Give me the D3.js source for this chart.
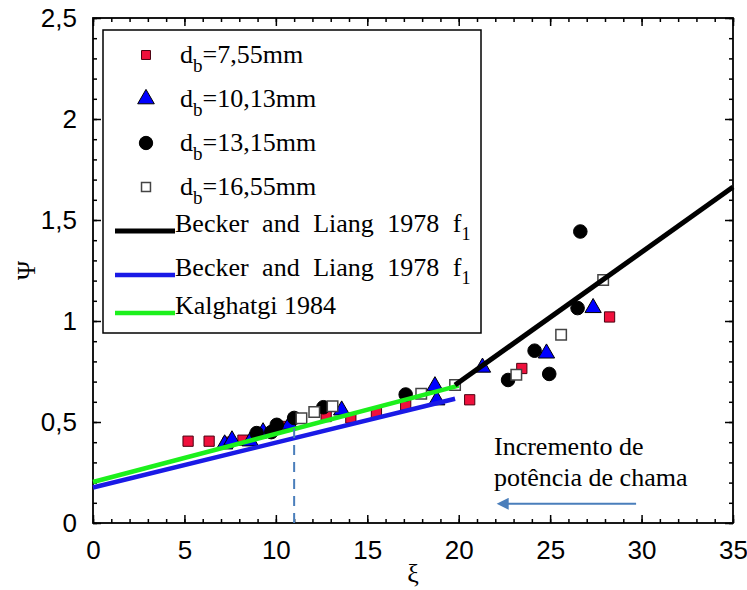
<!DOCTYPE html>
<html><head><meta charset="utf-8">
<script src="https://cdn.jsdelivr.net/npm/d3@7"></script>
<style>body{margin:0;background:#fff}svg{display:block}</style>
</head><body>
<script>
// ---- data ----
const redX   = [5.2, 6.35, 7.4, 8.2, 9.2, 10.5, 12.75, 14.1, 15.5, 17.1, 20.6, 23.45, 28.25];
const redY   = [0.405, 0.405, 0.40, 0.41, 0.445, 0.478, 0.527, 0.52, 0.546, 0.584, 0.61, 0.765, 1.02];
const triX   = [7.2, 7.6, 8.6, 9.3, 10.75, 13.6, 18.7, 18.8, 21.3, 24.8, 27.35];
const triY   = [0.39, 0.41, 0.405, 0.45, 0.488, 0.558, 0.678, 0.608, 0.77, 0.84, 1.065];
const circX  = [8.95, 9.75, 10.05, 11.0, 12.6, 17.1, 22.7, 24.15, 24.95, 26.5, 26.65];
const circY  = [0.445, 0.45, 0.486, 0.52, 0.573, 0.636, 0.708, 0.853, 0.738, 1.064, 1.443];
const openX  = [11.4, 12.1, 13.1, 17.95, 19.8, 23.15, 25.6, 27.9];
const openY  = [0.518, 0.55, 0.578, 0.64, 0.683, 0.734, 0.932, 1.203];
const blackLineX = [19.8, 35];   const blackLineY = [0.683, 1.663];
const blueLineX  = [0, 19.8];    const blueLineY  = [0.176, 0.615];
const greenLineX = [0, 20];      const greenLineY = [0.203, 0.680];
const dashX = [11, 11];          const dashY = [0.47, 0];
const arrowX = [29.7, 22.6];     const arrowY = [0.095, 0.095];
const xTicks = [0, 5, 10, 15, 20, 25, 30, 35];
const xTickLabels = ["0","5","10","15","20","25","30","35"];
const yTicks = [0, 0.5, 1, 1.5, 2, 2.5];
const yTickLabels = ["0","0,5","1","1,5","2","2,5"];
const seriesNames = ["=7,55mm", "=10,13mm", "=13,15mm", "=16,55mm"];
const lineNames = ["Becker and Liang 1978 f", "Becker and Liang 1978 f", "Kalghatgi 1984"];
const annotation = ["Incremento de", "potência de chama"];

const W = 747, H = 590;
const L = 93, R = 733, T = 18, B = 523;
const svg = d3.select("body").append("svg").attr("width", W).attr("height", H);
const x = d3.scaleLinear().domain([0, 35]).range([L, R]);
const y = d3.scaleLinear().domain([0, 2.5]).range([B, T]);

const serif = "'Liberation Serif','Times New Roman',serif";
const sans = "'Liberation Sans',Arial,sans-serif";

// axes with inside ticks
const xMinor = d3.range(0, 36, 1), yMinor = d3.range(0, 2.51, 0.1);
function axisG(gen, tr) { return svg.append("g").attr("transform", tr).call(gen); }
const style = g => { g.select(".domain").remove(); g.selectAll("line").attr("stroke", "#000").attr("stroke-width", 1.5); };
axisG(d3.axisBottom(x).tickValues(xMinor).tickSize(-4).tickFormat(""), `translate(0,${B})`).call(style);
axisG(d3.axisTop(x).tickValues(xMinor).tickSize(-4).tickFormat(""), `translate(0,${T})`).call(style);
axisG(d3.axisLeft(y).tickValues(yMinor).tickSize(-4).tickFormat(""), `translate(${L},0)`).call(style);
axisG(d3.axisRight(y).tickValues(yMinor).tickSize(-4).tickFormat(""), `translate(${R},0)`).call(style);
axisG(d3.axisTop(x).tickValues(xTicks).tickSize(-8).tickFormat(""), `translate(0,${T})`).call(style);
axisG(d3.axisRight(y).tickValues(yTicks).tickSize(-8).tickFormat(""), `translate(${R},0)`).call(style);
const xa = axisG(d3.axisBottom(x).tickValues(xTicks).tickSize(-8).tickPadding(18).tickFormat((d, i) => xTickLabels[i]), `translate(0,${B})`).call(style);
xa.selectAll("text").attr("font-family", sans).attr("font-size", 26).attr("fill", "#000");
const ya = axisG(d3.axisLeft(y).tickValues(yTicks).tickSize(-8).tickPadding(16).tickFormat((d, i) => yTickLabels[i]), `translate(${L},0)`).call(style);
ya.selectAll("text").attr("font-family", sans).attr("font-size", 26).attr("fill", "#000");
svg.append("rect").attr("x", L).attr("y", T).attr("width", R - L).attr("height", B - T)
  .attr("fill", "none").attr("stroke", "#000").attr("stroke-width", 1.8);

// axis titles
svg.append("text").attr("x", x(17.5)).attr("y", 582).attr("text-anchor", "middle")
  .attr("font-family", serif).attr("font-size", 26).text("ξ");
svg.append("text").attr("transform", `translate(35,${y(1.25)}) rotate(-90)`).attr("text-anchor", "middle")
  .attr("font-family", serif).attr("font-size", 26).text("Ψ");

// markers
const sym = (type, size) => d3.symbol().type(type).size(size);
const styles = [
  {type: d3.symbolSquare, size: 105, fill: "#f0103c", stroke: "#4a0010", sw: 1},
  {type: d3.symbolTriangle, size: 115, fill: "#0000ff", stroke: "#000", sw: 1},
  {type: d3.symbolCircle, size: 145, fill: "#000", stroke: "#000", sw: 1},
  {type: d3.symbolSquare, size: 110, fill: "#fff", stroke: "#444", sw: 1.5}
];
const sets = [[redX, redY], [triX, triY], [circX, circY], [openX, openY]];
sets.forEach(([xs, ys], k) => {
  const s = styles[k];
  svg.append("g").selectAll("path").data(xs.map((v, i) => [v, ys[i]])).join("path")
    .attr("d", sym(s.type, s.size)).attr("transform", d => `translate(${x(d[0])},${y(d[1])})`)
    .attr("fill", s.fill).attr("stroke", s.stroke).attr("stroke-width", s.sw);
});

// fitted lines
const lineGen = d3.line().x(d => x(d[0])).y(d => y(d[1]));
const lines = [[blueLineX, blueLineY, "#1a1ae6", 4.5], [greenLineX, greenLineY, "#1cf01c", 4.5], [blackLineX, blackLineY, "#000", 5]];
lines.forEach(([xs, ys, c, w]) => {
  svg.append("path").attr("d", lineGen(xs.map((v, i) => [v, ys[i]]))).attr("fill", "none")
    .attr("stroke", c).attr("stroke-width", w);
});

// dashed marker at ξ=11
svg.append("path").attr("d", lineGen(dashX.map((v, i) => [v, dashY[i]]))).attr("stroke", "#4a7ebb")
  .attr("stroke-width", 2).attr("stroke-dasharray", "10,7").attr("fill", "none");

// annotation
const ann = svg.append("text").attr("font-family", serif).attr("font-size", 26).attr("fill", "#000");
ann.append("tspan").attr("x", 494).attr("y", 455).text(annotation[0]);
ann.append("tspan").attr("x", 494).attr("y", 486).text(annotation[1]);
svg.append("defs").append("marker").attr("id", "ah").attr("viewBox", "0 0 10 10").attr("refX", 2).attr("refY", 5)
  .attr("markerWidth", 7).attr("markerHeight", 6).attr("orient", "auto-start-reverse")
  .append("path").attr("d", "M0,0L10,5L0,10z").attr("fill", "#4a7ebb");
svg.append("path").attr("d", lineGen(arrowX.map((v, i) => [v, arrowY[i]]))).attr("stroke", "#4a7ebb")
  .attr("stroke-width", 2).attr("fill", "none").attr("marker-end", "url(#ah)");

// legend
const lg = svg.append("g");
lg.append("rect").attr("x", 103).attr("y", 30).attr("width", 378).attr("height", 303)
  .attr("fill", "#fff").attr("stroke", "#000").attr("stroke-width", 1.5);
const rowY = [55, 99, 143, 187];
const legSizes = [80, 120, 140, 80];
seriesNames.forEach((name, k) => {
  const s = styles[k];
  lg.append("path").attr("d", sym(s.type, legSizes[k])).attr("transform", `translate(146,${rowY[k]})`)
    .attr("fill", s.fill).attr("stroke", s.stroke).attr("stroke-width", s.sw);
  const t = lg.append("text").attr("x", 180).attr("y", rowY[k] + 8).attr("font-family", serif).attr("font-size", 26);
  t.append("tspan").text("d");
  t.append("tspan").attr("dy", 9).attr("font-size", 19).text("b");
  t.append("tspan").attr("dy", -9).text(name);
});
const lineRowY = [231, 275, 313];
const lineCols = ["#000", "#1a1ae6", "#1cf01c"];
lineNames.forEach((name, k) => {
  lg.append("line").attr("x1", 115).attr("x2", 175).attr("y1", lineRowY[k]).attr("y2", lineRowY[k])
    .attr("stroke", lineCols[k]).attr("stroke-width", k === 0 ? 5 : 4.5);
  const t = lg.append("text").attr("x", 175).attr("y", lineRowY[k] + 1).attr("font-family", serif).attr("font-size", 26);
  if (k < 2) {
    t.attr("word-spacing", 7);
    t.append("tspan").text(name);
    t.append("tspan").attr("dy", 8).attr("font-size", 18).text("1");
  } else {
    t.text(name);
  }
});
</script>
</body></html>
